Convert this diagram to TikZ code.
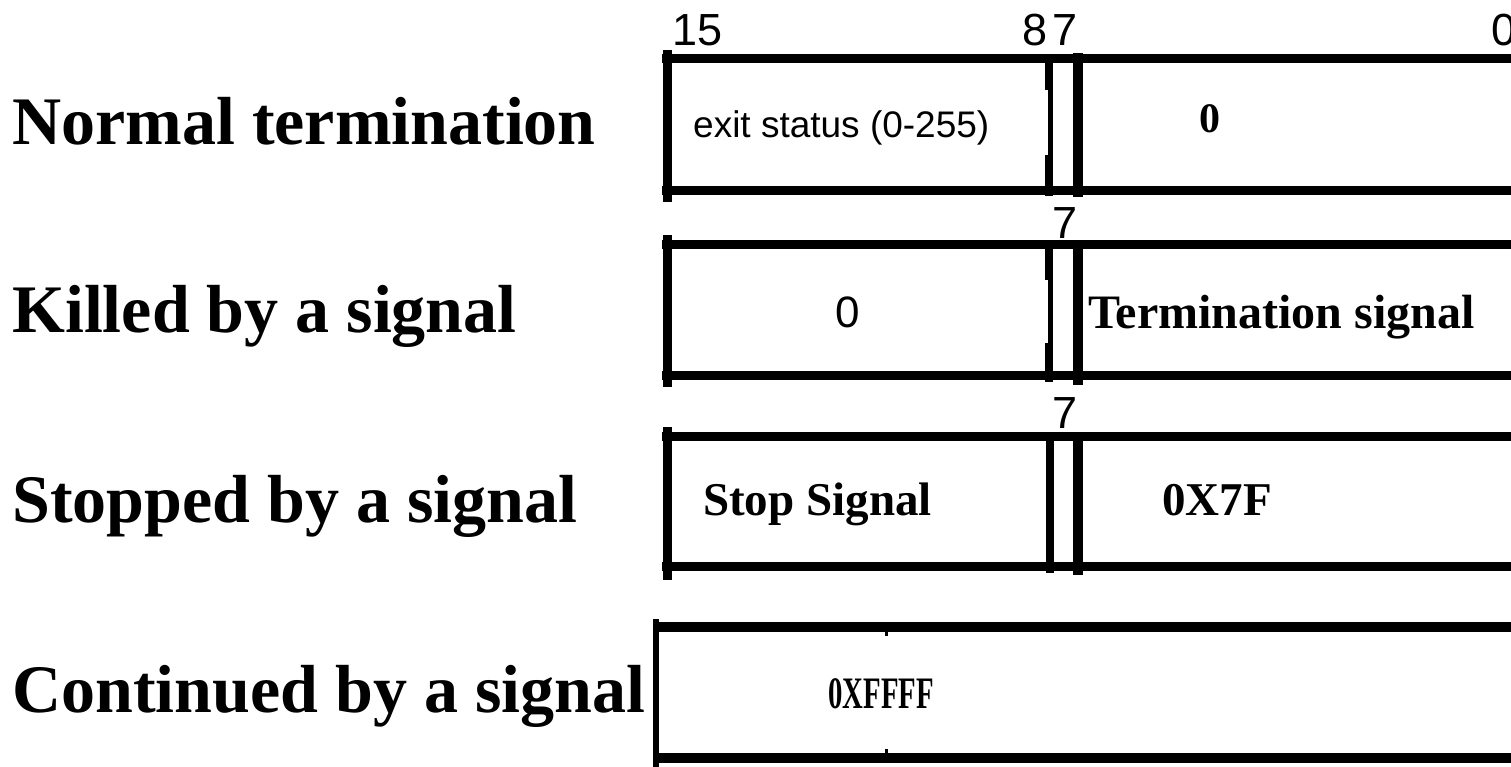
\documentclass[tikz,border=0pt]{standalone}
\usepackage{fontspec}
\setmainfont{Liberation Serif}
\newfontfamily\arialfont{Liberation Sans}
\newcommand\fsize[1]{\fontsize{#1}{#1}\selectfont}
\tikzset{
	frame/.style = {line width=9pt},
	sepline/.style = {line width=8pt},
	septhick/.style = {line width=10pt},
	title/.style = {anchor=base west, inner sep=0pt, font=\fsize{68}\bfseries},
	bitnum/.style = {anchor=base west, inner sep=0pt, font=\arialfont\fsize{45}},
	field/.style = {anchor=base west, inner sep=0pt, font=\fsize{48}\bfseries}
}

\begin{document}
\begin{tikzpicture}[x=1pt,y=-1pt]
	\useasboundingbox (0,0) rectangle (1511,766);

	\node[title] (normal) at (12,144) {Normal termination};
	\node[title] (killed) at (12,332) {Killed by a signal};
	\node[title] (stopped) at (12,522) {Stopped by a signal};
	\node[title] (continued) at (12,712) {Continued by a signal};

	\node[bitnum] (b15) at (672,45) {15};
	\node[bitnum] (b8) at (1022,45) {8};
	\node[bitnum] (b7) at (1052,45) {7};
	\node[bitnum] (b0) at (1491,45) {0};
	\node[bitnum] (b7k) at (1052,238) {7};
	\node[bitnum] (b7s) at (1052,428) {7};

	\draw[frame] (667,50) -- (667,202);
	\draw[frame] (662,58) -- (1520,58);
	\draw[frame] (662,190) -- (1520,190);
	\draw[sepline] (1049,58) -- (1049,196);
	\fill[white] (1044.5,90) rectangle (1047.5,155);
	\draw[septhick] (1078,53) -- (1078,197);
	\node[anchor=base west, inner sep=0pt, font=\arialfont\fsize{37}] (exit) at (693,137) {exit status (0-255)};
	\node[field, font=\fsize{42}\bfseries] (low0) at (1199,132) {0};

	\draw[frame] (667,235) -- (667,387);
	\draw[frame] (662,244) -- (1520,244);
	\draw[frame] (662,375) -- (1520,375);
	\draw[sepline] (1049,244) -- (1049,382);
	\fill[white] (1044.5,280) rectangle (1047.5,343);
	\draw[septhick] (1078,244) -- (1078,385);
	\node[anchor=base, inner sep=0pt, font=\arialfont\fsize{44}] (high0) at (848,327) {0};
	\node[field] (termsig) at (1088,328) {Termination signal};

	\draw[frame] (667,427) -- (667,580);
	\draw[frame] (662,436) -- (1520,436);
	\draw[frame] (662,566) -- (1520,566);
	\draw[sepline] (1050,436) -- (1050,573);
	\draw[septhick] (1078,432) -- (1078,575);
	\node[field, font=\fsize{47}\bfseries] (stopsig) at (703,515) {Stop Signal};
	\node[field, font=\fsize{47}\bfseries] (code7f) at (1162,515) {0X7F};

	\draw[line width=6pt] (656,619) -- (656,770);
	\draw[septhick] (653,627) -- (1520,627);
	\draw[septhick] (653,758) -- (1520,758);
	\fill (884.5,632) rectangle (887.5,636);
	\fill (884.5,749) rectangle (887.5,753);
	\node[field, font=\fsize{45}\bfseries] (codeffff) at (828,708) {\scalebox{0.64}[1]{0XFFFF}};
\end{tikzpicture}
\end{document}
